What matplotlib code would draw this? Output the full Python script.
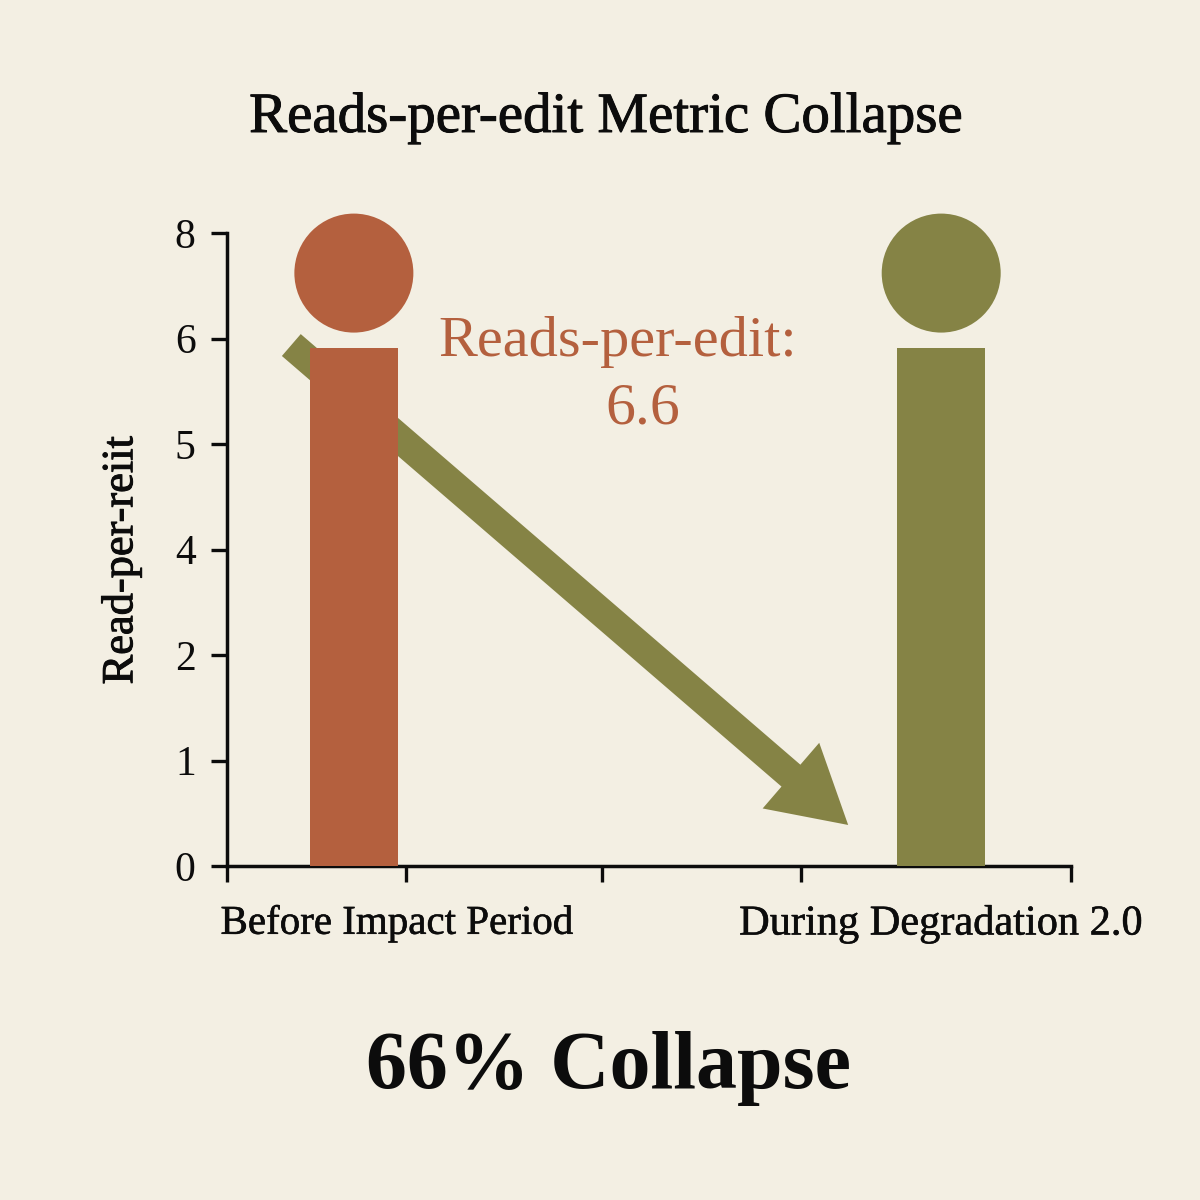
import matplotlib
matplotlib.use("Agg")
import matplotlib.pyplot as plt
import matplotlib.patheffects as pe
from matplotlib.patches import FancyArrowPatch

categories = ["Before Impact Period", "During Degradation 2.0"]
bar_values = [4.91, 4.91]
dot_values = [5.62, 5.62]
bar_colors = ["#b4603e", "#858345"]
y_tick_labels = ["0", "1", "2", "4", "5", "6", "8"]
x_tick_positions = [-0.216, 0.089, 0.422, 0.761, 1.221]
arrow_start = (-0.1065, 4.938)
arrow_end = (0.8416, 0.389)

BG = "#f3efe3"
INK = "#0c0c0c"
plt.rcParams["font.family"] = ["Liberation Serif", "DejaVu Serif"]
fig = plt.figure(figsize=(12, 12), dpi=100, facecolor=BG)
ax = fig.add_axes([227/1200, 334/1200, 844/1200, 633/1200], facecolor=BG)
ax.set_xlim(-0.216, 1.221)
ax.set_ylim(0, 6)

x = [0, 1]
ax.add_patch(FancyArrowPatch(arrow_start, arrow_end,
                             arrowstyle="simple,head_length=3.4,head_width=3.9,tail_width=1.3",
                             mutation_scale=16, color=bar_colors[1], lw=0, zorder=2, shrinkA=0, shrinkB=0))
ax.bar(x, bar_values, width=0.15, color=bar_colors, zorder=3)
ax.scatter(x, dot_values, s=(119*0.72)**2, c=bar_colors, linewidths=0, clip_on=False, zorder=3)

for s in ["top", "right"]:
    ax.spines[s].set_visible(False)
for s in ["left", "bottom"]:
    ax.spines[s].set_linewidth(2.5)
    ax.spines[s].set_color(INK)

ax.set_yticks(range(len(y_tick_labels)))
ax.set_yticklabels(y_tick_labels, fontsize=30, color=INK)
ax.tick_params(axis="y", length=11.5, width=2.4, pad=11, color=INK)
ax.set_xticks(x_tick_positions)
ax.set_xticklabels([])
ax.tick_params(axis="x", length=11.5, width=2.4, color=INK)

def thick(w):
    return [pe.withStroke(linewidth=w, foreground=INK)]

fig.text(606/1200, 1-118/1200, "Reads-per-edit Metric Collapse", fontsize=41, ha="center", va="center",
         color=INK, path_effects=thick(0.7))
fig.text(121/1200, 1-560/1200, "Read-per-reiit", fontsize=32, rotation=90, ha="center", va="center",
         color=INK, path_effects=thick(0.7))
fig.text(397/1200, 1-924/1200, categories[0], fontsize=29.5, ha="center", va="center",
         color=INK, path_effects=thick(0.4))
fig.text(941/1200, 1-924/1200, categories[1], fontsize=30.5, ha="center", va="center",
         color=INK, path_effects=thick(0.4))
fig.text(618/1200, 1-342/1200, "Reads-per-edit:", fontsize=42, ha="center", va="center", color=bar_colors[0])
fig.text(643/1200, 1-410/1200, "6.6", fontsize=43, ha="center", va="center", color=bar_colors[0])
fig.text(609/1200, 1-1068/1200, "66% Collapse", fontsize=59, weight="bold", ha="center", va="center", color=INK)

fig.savefig("out.png", dpi=100, facecolor=BG)
